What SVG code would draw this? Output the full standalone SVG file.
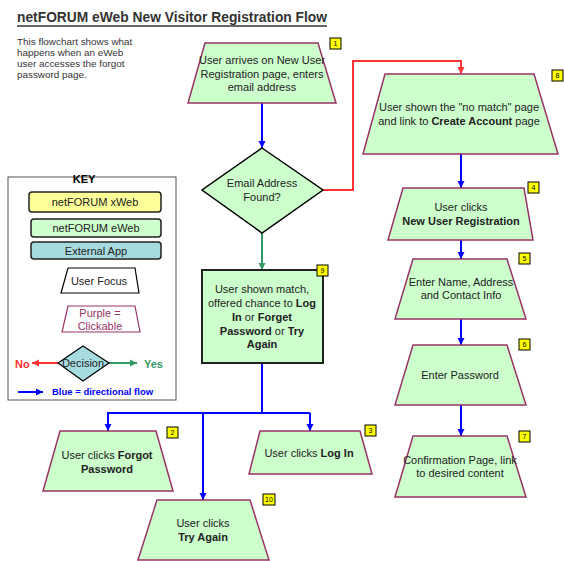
<svg xmlns="http://www.w3.org/2000/svg" width="564" height="561" viewBox="0 0 564 561">
<defs>
<style>
text{font-family:"Liberation Sans",Arial,sans-serif;fill:#222;}
.t{font-size:11px;text-anchor:middle;}
.b{font-weight:bold;}
.node{fill:#ccffcc;stroke:#993366;stroke-width:1.5;}
.badge rect{fill:#ffff00;stroke:#000;stroke-width:1;}
.badge text{font-size:7px;text-anchor:middle;fill:#000;}
.blue{fill:none;stroke:#0000ff;stroke-width:2;}
.red{fill:none;stroke:#ff3333;stroke-width:2;}
.green{fill:none;stroke:#339966;stroke-width:2;}
</style>
<marker id="ab" markerUnits="userSpaceOnUse" viewBox="0 0 10 10" refX="10" refY="5" markerWidth="7" markerHeight="10" orient="auto"><path d="M0,0 L10,5 L0,10 z" fill="#0000ff"/></marker>
<marker id="ar" markerUnits="userSpaceOnUse" viewBox="0 0 10 10" refX="10" refY="5" markerWidth="7" markerHeight="10" orient="auto"><path d="M0,0 L10,5 L0,10 z" fill="#ff3333"/></marker>
<marker id="ag" markerUnits="userSpaceOnUse" viewBox="0 0 10 10" refX="10" refY="5" markerWidth="7" markerHeight="10" orient="auto"><path d="M0,0 L10,5 L0,10 z" fill="#339966"/></marker>
</defs>
<rect width="564" height="561" fill="#fff"/>

<g id="title">
<text x="17" y="22" font-size="14" font-weight="bold" textLength="310" lengthAdjust="spacingAndGlyphs" style="fill:#333">netFORUM eWeb New Visitor Registration Flow</text>
<line x1="17" y1="26" x2="327" y2="26" stroke="#333" stroke-width="1.5"/>
<text font-size="9.9" style="fill:#333"><tspan x="17" y="45">This flowchart shows what</tspan><tspan x="17" y="56">happens when an eWeb</tspan><tspan x="17" y="67">user accesses the forgot</tspan><tspan x="17" y="78">password page.</tspan></text>
</g>

<g id="key">
<rect x="8" y="177" width="168" height="223" fill="#fff" stroke="#555" stroke-width="1"/>
<text x="84" y="183" font-size="11" font-weight="bold" text-anchor="middle" style="fill:#000">KEY</text>
<rect x="29" y="192" width="132" height="20" rx="3" fill="#ffff99" stroke="#222" stroke-width="1.5"/>
<text class="t" x="95" y="206">netFORUM xWeb</text>
<rect x="31" y="219" width="130" height="18" rx="3" fill="#ccffcc" stroke="#222" stroke-width="1.5"/>
<text class="t" x="96" y="232">netFORUM eWeb</text>
<rect x="31" y="242" width="130" height="17" rx="3" fill="#a6dbe0" stroke="#222" stroke-width="1.5"/>
<text class="t" x="96" y="255">External App</text>
<polygon points="68,268 135,268 139,293 61,293" fill="#fff" stroke="#000" stroke-width="1.2"/>
<text class="t" x="99" y="285">User Focus</text>
<polygon points="68,306 135,306 140,332 62,332" fill="#fff" stroke="#993366" stroke-width="1.2"/>
<text class="t" x="100" y="317" style="fill:#993366">Purple =</text>
<text class="t" x="100" y="330" style="fill:#993366">Clickable</text>
<path class="red" d="M58 363 H32" marker-end="url(#ar)"/>
<path class="green" d="M109 363 H137" marker-end="url(#ag)"/>
<polygon points="83,346 109,363 83,381 58,363" fill="#a6dbe0" stroke="#000" stroke-width="1.2"/>
<text class="t" x="83" y="367">Decision</text>
<text x="15" y="368" font-size="11" font-weight="bold" style="fill:#ff3333">No</text>
<text x="144" y="368" font-size="11" font-weight="bold" style="fill:#339966">Yes</text>
<path class="blue" d="M18 392 H43" marker-end="url(#ab)"/>
<text x="52" y="395" font-size="9.5" font-weight="bold" style="fill:#0000ff">Blue = directional flow</text>
</g>

<g id="connectors">
<path class="blue" d="M262 103 V148" marker-end="url(#ab)"/>
<path class="green" d="M262 233 V270" marker-end="url(#ag)"/>
<path class="red" d="M323 190 H353 V61 H461 V74" marker-end="url(#ar)"/>
<path class="blue" d="M461 154 V188" marker-end="url(#ab)"/>
<path class="blue" d="M461 240 V259" marker-end="url(#ab)"/>
<path class="blue" d="M461 319 V345" marker-end="url(#ab)"/>
<path class="blue" d="M461 405 V436" marker-end="url(#ab)"/>
<path class="blue" d="M262 363 V413 M107 413 H310"/>
<path class="blue" d="M108 413 V431" marker-end="url(#ab)"/>
<path class="blue" d="M310 413 V431" marker-end="url(#ab)"/>
<path class="blue" d="M203 413 V500" marker-end="url(#ab)"/>
</g>

<g id="n1">
<polygon class="node" points="205,43 318,43 336,103 188,103"/>
<text class="t"><tspan x="262" y="64">User arrives on New User</tspan><tspan x="262" y="77.5">Registration page, enters</tspan><tspan x="262" y="91">email address</tspan></text>
<g class="badge"><rect x="330" y="38" width="11" height="11"/><text x="335.5" y="46">1</text></g>
</g>

<g id="decision">
<polygon points="262,148 323,190 262,233 202,190" fill="#ccffcc" stroke="#000" stroke-width="1.5"/>
<text class="t"><tspan x="262" y="187">Email Address</tspan><tspan x="262" y="201">Found?</tspan></text>
</g>

<g id="n9">
<rect x="202" y="270" width="121" height="93" fill="#ccffcc" stroke="#222" stroke-width="2"/>
<text class="t"><tspan x="262" y="293">User shown match,</tspan><tspan x="262" y="307">offered chance to <tspan class="b">Log</tspan></tspan><tspan x="262" y="321"><tspan class="b">In</tspan> or <tspan class="b">Forget</tspan></tspan><tspan x="262" y="334.5"><tspan class="b">Password</tspan> or <tspan class="b">Try</tspan></tspan><tspan x="262" y="348" class="b">Again</tspan></text>
<g class="badge"><rect x="317" y="265" width="11" height="11"/><text x="322.5" y="273">9</text></g>
</g>

<g id="n8">
<polygon class="node" points="385,74 534,74 558,154 363,154"/>
<text class="t"><tspan x="459" y="111">User shown the "no match" page</tspan><tspan x="459" y="125">and link to <tspan class="b">Create Account</tspan> page</tspan></text>
<g class="badge"><rect x="552" y="70" width="11" height="11"/><text x="557.5" y="78">8</text></g>
</g>

<g id="n4">
<polygon class="node" points="403,188 524,188 533,240 388,240"/>
<text class="t"><tspan x="461" y="211">User clicks</tspan><tspan x="461" y="225" class="b">New User Registration</tspan></text>
<g class="badge"><rect x="528" y="182" width="11" height="11"/><text x="533.5" y="190">4</text></g>
</g>

<g id="n5">
<polygon class="node" points="413,259 507,259 526,319 395,319"/>
<text class="t"><tspan x="461" y="286">Enter Name, Address</tspan><tspan x="461" y="299">and Contact Info</tspan></text>
<g class="badge"><rect x="519" y="253" width="11" height="11"/><text x="524.5" y="261">5</text></g>
</g>

<g id="n6">
<polygon class="node" points="413,345 507,345 526,405 395,405"/>
<text class="t" x="460" y="379">Enter Password</text>
<g class="badge"><rect x="519" y="339" width="11" height="11"/><text x="524.5" y="347">6</text></g>
</g>

<g id="n7">
<polygon class="node" points="413,436 507,436 526,497 395,497"/>
<text class="t"><tspan x="460" y="464">Confirmation Page, link</tspan><tspan x="460" y="477">to desired content</tspan></text>
<g class="badge"><rect x="519" y="431" width="11" height="11"/><text x="524.5" y="439">7</text></g>
</g>

<g id="n2">
<polygon class="node" points="60,431 156,431 173,491 43,491"/>
<text class="t"><tspan x="107" y="459">User clicks <tspan class="b">Forgot</tspan></tspan><tspan x="107" y="473" class="b">Password</tspan></text>
<g class="badge"><rect x="167" y="427" width="11" height="11"/><text x="172.5" y="435">2</text></g>
</g>

<g id="n3">
<polygon class="node" points="260,431 360,431 372,474 249,474"/>
<text class="t" x="309" y="457">User clicks <tspan class="b">Log In</tspan></text>
<g class="badge"><rect x="365" y="425" width="11" height="11"/><text x="370.5" y="433">3</text></g>
</g>

<g id="n10">
<polygon class="node" points="157,500 250,500 269,560 138,560"/>
<text class="t"><tspan x="203" y="527">User clicks</tspan><tspan x="203" y="541" class="b">Try Again</tspan></text>
<g class="badge"><rect x="263" y="494" width="12" height="11"/><text x="269" y="502">10</text></g>
</g>
</svg>
